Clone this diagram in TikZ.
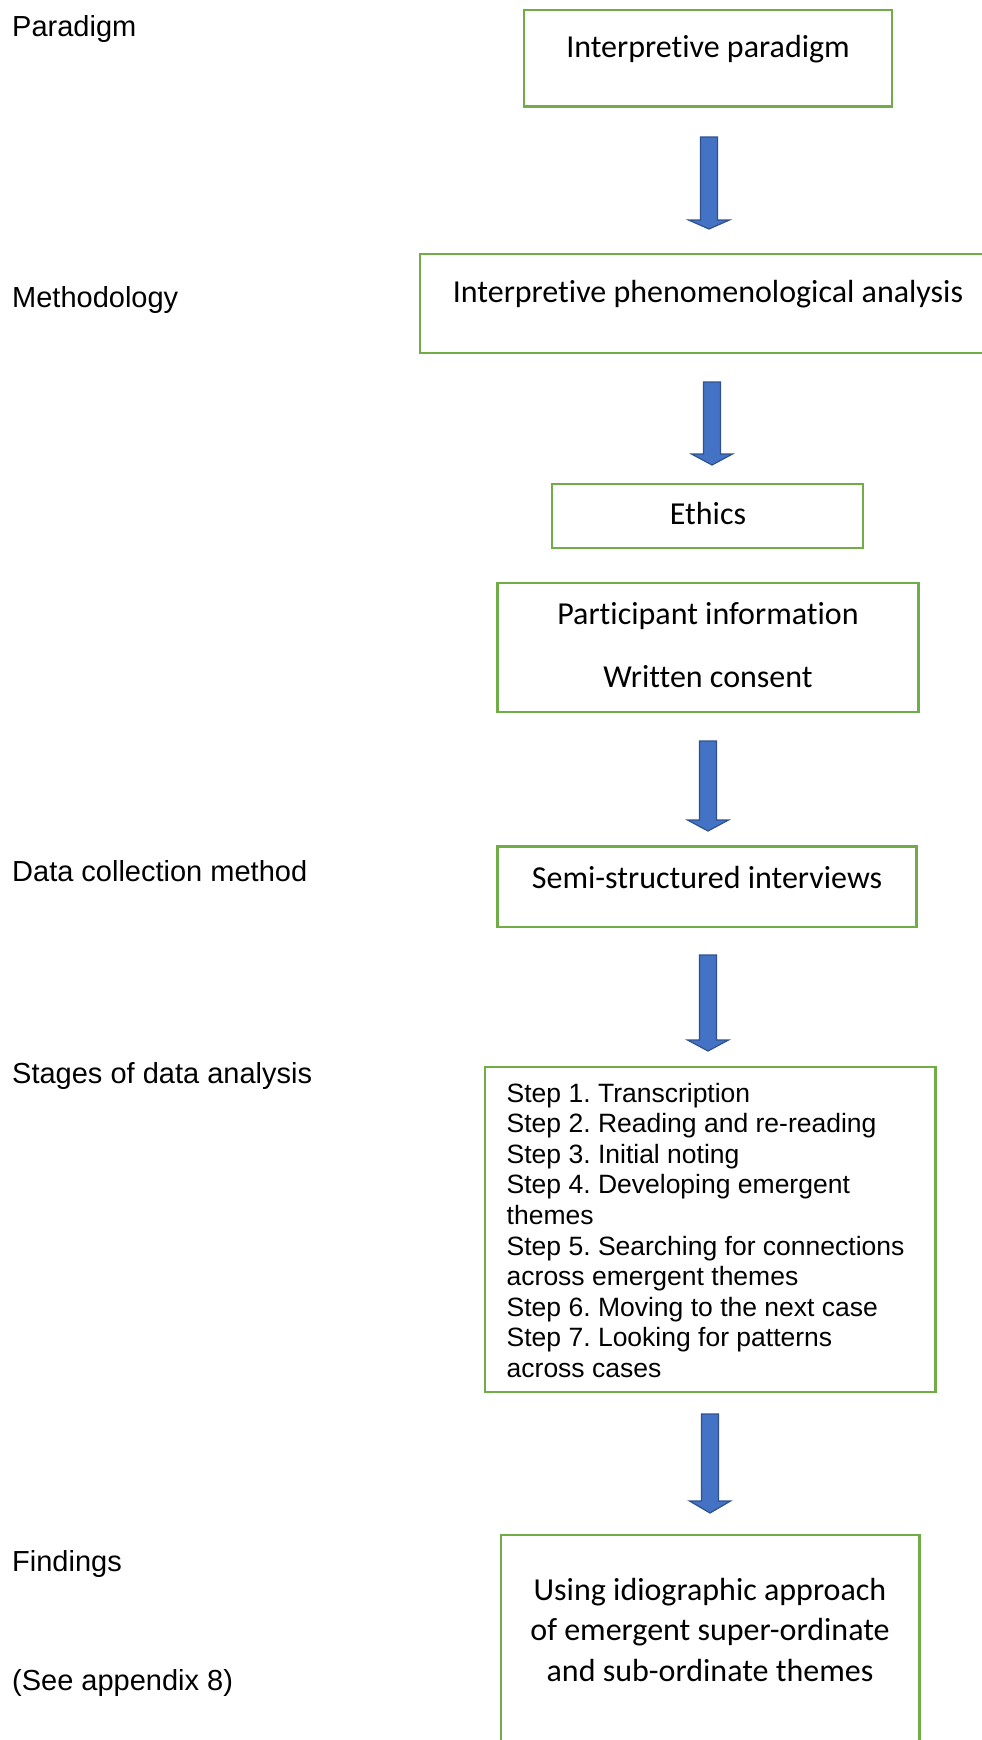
\documentclass[tikz,border=0pt]{standalone}
\usepackage{fontspec}
\setmainfont{Liberation Sans}
\newfontfamily\calfont[Ligatures=NoCommon]{Carlito}
\frenchspacing
\definecolor{boxgreen}{HTML}{70AD47}
\definecolor{arrfill}{HTML}{4472C4}
\definecolor{arrline}{HTML}{2F528F}
\tikzset{
  gbox/.style={draw=boxgreen, line width=2.2pt, inner sep=0pt, rectangle},
  lbl/.style={anchor=base west, inner sep=0pt, font=\fontsize{29}{33}\selectfont},
  btxt/.style={anchor=base, inner sep=0pt, font=\calfont\fontsize{32}{39}\selectfont},
  stxt/.style={anchor=base west, inner sep=0pt, font=\fontsize{26.5}{30.6}\selectfont},
  barrow/.style={fill=arrfill, draw=arrline, line width=1.2pt, line join=miter}
}
% #1 centre x, #2 top y, #3 head base y, #4 tip y
\newcommand\blockarrow[4]{%
  \filldraw[barrow] ({#1-8.5},#2) -- ({#1+8.5},#2) -- ({#1+8.5},#3) -- ({#1+20.5},#3)
    -- (#1,#4) -- ({#1-20.5},#3) -- ({#1-8.5},#3) -- cycle;}
\begin{document}
\frenchspacing
\begin{tikzpicture}[x=1pt,y=-1pt]
\useasboundingbox (0,0) rectangle (982,1740);
\clip (0,0) rectangle (982,1740);
\fill[white] (0,0) rectangle (982,1740);

% left labels
\node[lbl] (lparadigm) at (12,36.5) {Paradigm};
\node[lbl] (lmethod) at (12,307) {Methodology};
\node[lbl] (ldata) at (12,881) {Data collection method};
\node[lbl] (lstages) at (12,1083) {Stages of data analysis};
\node[lbl] (lfind) at (12,1571) {Findings};
\node[lbl] (lsee) at (12,1690) {(See appendix 8)};

% boxes
\node[gbox, minimum width=368pt, minimum height=96.5pt] (b1) at (708,58.25) {};
\node[btxt] (t1) at (708,57.5) {Interpretive paradigm};

\node[gbox, minimum width=576pt, minimum height=99pt] (b2) at (708,303.5) {};
\node[btxt] (t2) at (708,302.5) {Interpretive phenomenological analysis};

\node[gbox, minimum width=311pt, minimum height=64pt] (b3) at (707.5,516) {};
\node[btxt] (t3) at (708,524.5) {Ethics};

\node[gbox, minimum width=421pt, minimum height=129pt] (b4) at (708,647.5) {};
\node[btxt] (t4a) at (708,624.5) {Participant information};
\node[btxt] (t4b) at (708,687.5) {Written consent};

\node[gbox, minimum width=419pt, minimum height=80.5pt] (b5) at (707,886.75) {};
\node[btxt] (t5) at (707,888) {Semi-structured interviews};

\node[gbox, minimum width=450.5pt, minimum height=325pt] (b6) at (710.25,1229.5) {};
\foreach \t [count=\i from 0] in {Step 1. Transcription, Step 2. Reading and re-reading,
  Step 3. Initial noting, Step 4. Developing emergent, themes,
  Step 5. Searching for connections, across emergent themes,
  Step 6. Moving to the next case, Step 7. Looking for patterns, across cases}
  \node[stxt, name=s\i] at (506.5,{1102+30.6*\i}) {\t};

\node[gbox, minimum width=418.5pt, minimum height=225pt] (b7) at (710.25,1647.5) {};
\node[btxt] (t7a) at (710,1600) {Using idiographic approach};
\node[btxt] (t7b) at (710,1640.5) {of emergent super-ordinate};
\node[btxt] (t7c) at (710,1681.5) {and sub-ordinate themes};

% block arrows
\blockarrow{709}{137}{220}{229}
\blockarrow{712}{382}{454}{465}
\blockarrow{708}{741}{820}{831}
\blockarrow{708}{955}{1040}{1051}
\blockarrow{710}{1414}{1501}{1513}
\end{tikzpicture}
\end{document}
